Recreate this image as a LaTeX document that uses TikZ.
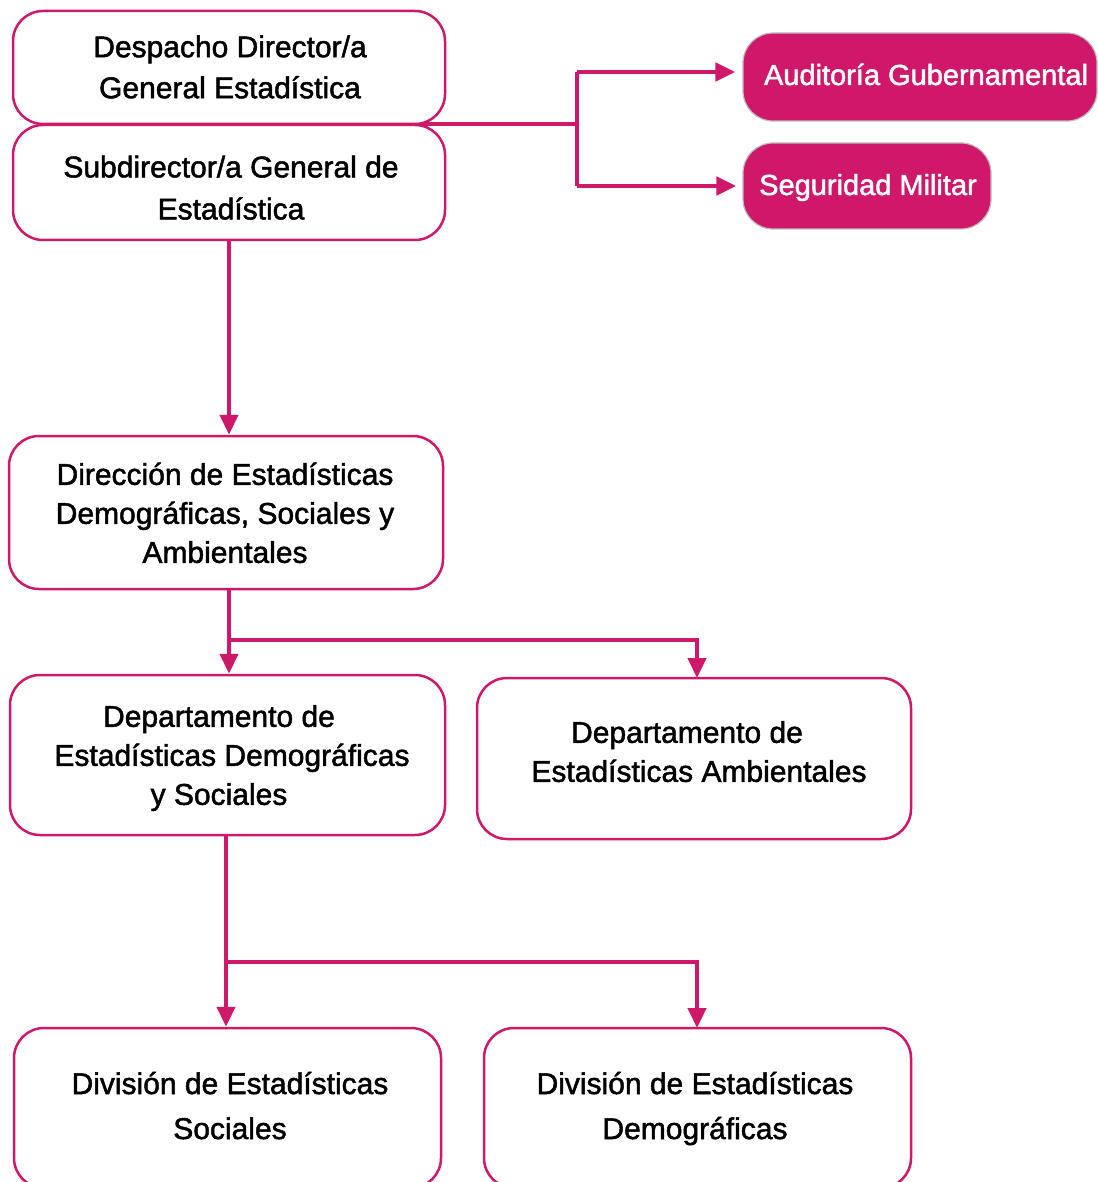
\documentclass[tikz,border=0pt]{standalone}
\usepackage{fontspec}
\setmainfont{Liberation Sans}[FakeBold=1.6]
\usetikzlibrary{arrows.meta,calc}
\definecolor{pk}{HTML}{D0186B}
\begin{document}
\begin{tikzpicture}[x=1pt,y=-1pt,
  box/.style={draw=pk,line width=2.5pt,rounded corners=30pt,fill=white,inner sep=0pt},
  pbox/.style={draw=black!25,line width=1.2pt,rounded corners=30pt,fill=pk,inner sep=0pt},
  txt/.style={align=center,inner sep=0pt,font=\fontsize{30}{#1}\selectfont},
  txt/.default=40,
  ptxt/.style={inner sep=0pt,text=white,font=\fontsize{29}{40}\selectfont},
  conn/.style={draw=pk,line width=4.5pt},
  arr/.style={conn,-{Triangle[length=20pt,width=18pt]}}]
\useasboundingbox (0,0) rectangle (1097,1182);
% boxes
\node[box,minimum width=432pt,minimum height=113pt] (desp) at (229,67.5) {};
\node[box,minimum width=432pt,minimum height=115pt] (sub) at (229,182.5) {};
\node[pbox,minimum width=354pt,minimum height=88pt] (aud) at (920,77) {};
\node[pbox,minimum width=248pt,minimum height=86pt] (seg) at (867,186) {};
\node[box,minimum width=434pt,minimum height=153pt] (dir) at (226,512.5) {};
\node[box,minimum width=435pt,minimum height=160pt] (dds) at (227.5,755) {};
\node[box,minimum width=434pt,minimum height=161pt] (damb) at (694,758.5) {};
\node[box,minimum width=427pt,minimum height=160pt] (dsoc) at (227.5,1108) {};
\node[box,minimum width=427pt,minimum height=160pt] (ddem) at (697.5,1108) {};
% texts
\node[txt=41] (tdesp) at (230,69.5) {\strut Despacho Director/a\\General Estadística\strut};
\node[txt=42] (tsub) at (231,190) {\strut Subdirector/a General de\\Estadística\strut};
\node[ptxt] (taud) at (926,77) {\strut Auditoría Gubernamental};
\node[ptxt] (tseg) at (868,187) {\strut Seguridad Militar};
\node[txt=39] (tdir) at (225,516) {\strut Dirección de Estadísticas\\Demográficas, Sociales y\\Ambientales\strut};
\node[txt=39] (tdds) at (232,758) {\strut Departamento de\hspace*{26pt}\\Estadísticas Demográficas\\y Sociales\hspace*{26pt}\strut};
\node[txt=39] (tdamb) at (699,754.5) {\strut Departamento de\hspace*{24pt}\\Estadísticas Ambientales\strut};
\node[txt=45] (tdsoc) at (230,1107.5) {\strut División de Estadísticas\\Sociales\strut};
\node[txt=45] (tddem) at (695,1107.5) {\strut División de Estadísticas\\Demográficas\strut};
% connectors
\coordinate (s1) at (420,124);
\coordinate (j1) at (577,124);
\coordinate (ja) at (577,72);
\coordinate (jb) at (577,186);
\draw[conn] (s1) -- (j1);
\draw[conn] (ja) -- (jb);
\draw[arr] (ja) -- ($(ja -| aud.west)+(-7,0)$);
\draw[arr] (jb) -- ($(jb -| seg.west)+(-6,0)$);
\draw[arr] (sub.south -| 229,0) -- (dir.north -| 229,0);
\coordinate (j2) at (229,640);
\draw[arr] (dir.south -| j2) -- (j2) -- (j2 |- dds.north);
\draw[arr] (j2) -- (697,640) -- (697,678);
\coordinate (j3) at (226,962);
\draw[arr] (dds.south -| j3) -- (j3) -- (j3 |- dsoc.north);
\draw[arr] (j3) -- (697,962) -- (697,1028);
\end{tikzpicture}
\end{document}
